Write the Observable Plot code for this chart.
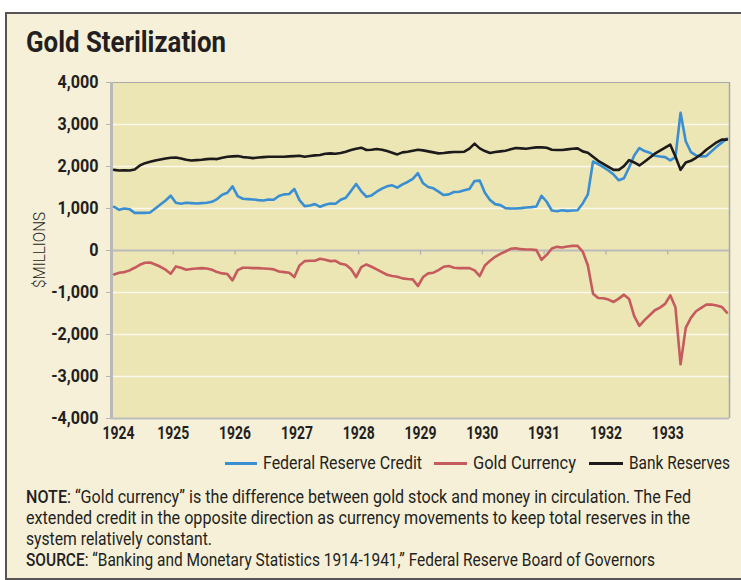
<!DOCTYPE html>
<html><head><meta charset="utf-8">
<script src="https://cdn.jsdelivr.net/npm/d3@7"></script>
<script src="https://cdn.jsdelivr.net/npm/@observablehq/plot@0.6"></script>
<style>
body{margin:0;background:#fff;}
#page{position:relative;width:741px;height:580px;overflow:hidden;font-family:Roboto,"Open Sans",sans-serif;color:#231f20;}
#frame{position:absolute;left:5px;top:12px;width:760px;height:564px;background:#f6f0d9;border-left:2px solid #555;border-top:2px solid #555;border-bottom:2px solid #555;}
.fit{position:absolute;white-space:nowrap;transform-origin:0 0;}
#title{left:26px;top:28px;font-weight:bold;font-size:29px;line-height:29px;}
#chart{position:absolute;left:0;top:62px;}
#ylab{position:absolute;white-space:nowrap;font-size:16px;line-height:16px;font-weight:300;}
.leg{font-size:18.5px;line-height:18px;}
.sw{position:absolute;height:3px;width:33px;}
.note{font-size:18.5px;line-height:18px;}
.note b{font-weight:500;}
</style>
</head><body>
<div id="page">
  <div id="frame"></div>
  <div id="title" class="fit">Gold Sterilization</div>
  <div id="chart"></div>
  <div id="ylab">$MILLIONS</div>
  <div id="legend"></div>
  <div id="notes"></div>
</div>
<script>
// ---- data (monthly, Jan 1924 – Dec 1933, $ millions) ----
const startYear = 1924;
const yearTicks = [1924, 1925, 1926, 1927, 1928, 1929, 1930, 1931, 1932, 1933];
const valueTicks = [-4000, -3000, -2000, -1000, 0, 1000, 2000, 3000, 4000];
const seriesNames = ["Federal Reserve Credit", "Gold Currency", "Bank Reserves"];
const seriesColors = ["#3a8fd3", "#c55b5d", "#1c1a1a"];

const fedCredit = [
  1040, 968, 1000, 984, 896, 896, 896, 904, 1000, 1096, 1192, 1304,
  1136, 1112, 1136, 1128, 1120, 1128, 1136, 1160, 1224, 1328, 1376, 1528,
  1296, 1232, 1224, 1216, 1200, 1192, 1216, 1208, 1296, 1336, 1344, 1464,
  1200, 1056, 1072, 1104, 1040, 1088, 1120, 1112, 1208, 1256, 1416, 1584,
  1408, 1280, 1312, 1400, 1472, 1528, 1552, 1496, 1576, 1632, 1704, 1840,
  1600, 1512, 1480, 1400, 1320, 1336, 1392, 1400, 1432, 1464, 1656, 1664,
  1376, 1200, 1104, 1080, 1008, 1000, 1000, 1008, 1024, 1032, 1048, 1304,
  1160, 952, 936, 960, 944, 952, 960, 1120, 1336, 2120, 2056, 1984,
  1904, 1808, 1672, 1720, 1976, 2264, 2440, 2368, 2328, 2256, 2240, 2224,
  2144, 2224, 3280, 2600, 2344, 2264, 2240, 2248, 2360, 2472, 2568, 2664
];
const goldCurrency = [
  -569, -529, -514, -474, -411, -340, -292, -284, -332, -387, -458, -553,
  -379, -411, -458, -442, -427, -419, -427, -458, -514, -545, -561, -711,
  -466, -411, -411, -419, -419, -427, -435, -450, -498, -514, -529, -632,
  -356, -253, -245, -245, -198, -221, -253, -245, -316, -340, -442, -632,
  -395, -332, -387, -450, -514, -577, -608, -624, -664, -679, -687, -845,
  -632, -545, -529, -466, -387, -371, -411, -419, -419, -419, -474, -608,
  -356, -245, -150, -79, -24, 40, 55, 32, 24, 24, 8, -221,
  -103, 47, 87, 71, 95, 111, 111, -24, -356, -1027, -1130, -1138,
  -1169, -1225, -1146, -1051, -1153, -1564, -1793, -1659, -1541, -1422, -1359, -1272,
  -1067, -1351, -2710, -1841, -1604, -1446, -1367, -1288, -1288, -1311, -1343, -1477
];
const bankReserves = [
  1920, 1904, 1912, 1904, 1928, 2024, 2080, 2112, 2144, 2168, 2192, 2208,
  2216, 2192, 2160, 2144, 2152, 2160, 2176, 2184, 2176, 2208, 2232, 2240,
  2248, 2224, 2216, 2200, 2216, 2224, 2232, 2232, 2232, 2232, 2240, 2248,
  2256, 2232, 2248, 2264, 2272, 2304, 2312, 2304, 2320, 2352, 2392, 2424,
  2448, 2392, 2400, 2416, 2400, 2368, 2328, 2288, 2336, 2352, 2376, 2400,
  2384, 2360, 2336, 2312, 2320, 2336, 2344, 2344, 2352, 2424, 2544, 2432,
  2368, 2320, 2344, 2360, 2376, 2408, 2440, 2432, 2424, 2440, 2456, 2456,
  2448, 2400, 2392, 2392, 2408, 2424, 2432, 2360, 2328, 2232, 2136, 2064,
  1992, 1920, 1920, 2008, 2152, 2096, 2024, 2112, 2208, 2304, 2376, 2448,
  2520, 2240, 1920, 2096, 2136, 2208, 2288, 2400, 2488, 2576, 2640, 2640
];
const noteLines = [
  ["NOTE", ": “Gold currency” is the difference between gold stock and money in circulation. The Fed"],
  ["", "extended credit in the opposite direction as currency movements to keep total reserves in the"],
  ["", "system relatively constant."],
  ["SOURCE", ": “Banking and Monetary Statistics 1914-1941,” Federal Reserve Board of Governors"]
];

// ---- build table ----
const monthTime = i => startYear + (i + 0.5) / 12;
const table = [];
[fedCredit, goldCurrency, bankReserves].forEach((arr, s) =>
  arr.forEach((v, i) => table.push({t: monthTime(i), v, s: seriesNames[s]})));

const fmt = d => (d < 0 ? "-" : "") + d3.format(",")(Math.abs(d));
const axisFont = {fill: "#231f20"};

const chart = Plot.plot({
  width: 741, height: 386,
  marginLeft: 111, marginRight: 12, marginTop: 20, marginBottom: 30,
  x: {domain: [1924, 1934]},
  y: {domain: [-4000, 4000]},
  style: {background: "transparent", fontFamily: "Roboto, sans-serif", fontSize: "18px", fontWeight: "bold", color: "#231f20", overflow: "visible"},
  marks: [
    Plot.frame({fill: "#ece5b4", stroke: null}),
    Plot.ruleY(valueTicks.filter(d => Math.abs(d) !== 4000 && d !== 0), {stroke: "#fbf8ec", strokeWidth: 1.6}),
    Plot.ruleY([4000], {stroke: "#a8a8a8", strokeWidth: 1.2}),
    Plot.ruleY([-4000], {stroke: "#bdbdbd", strokeWidth: 2}),
    Plot.ruleX([1934], {stroke: "#a8a8a8", strokeWidth: 1.5}),
    Plot.ruleY([0], {stroke: "#bcbcbc", strokeWidth: 2}),
    Plot.ruleX(yearTicks.concat([1934]), {y1: 0, y2: -110, stroke: "#b0b0b0", strokeWidth: 1.2}),
    Plot.ruleX([1924], {stroke: "#b9b9b9", strokeWidth: 3}),
    Plot.axisY({ticks: valueTicks, tickFormat: fmt, tickSize: 5, tickPadding: 8, stroke: "#b5b5b5", label: null, ...axisFont}),
    Plot.axisX({ticks: yearTicks.slice(1), tickFormat: d => String(d), tickSize: 0, tickPadding: 8, label: null, ...axisFont}),
    Plot.axisX({ticks: [yearTicks[0]], tickFormat: d => String(d), tickSize: 0, tickPadding: 8, dx: 7, label: null, ...axisFont}),
    Plot.line(table, {x: "t", y: "v", z: "s", stroke: "s", strokeWidth: 2.6, strokeLinejoin: "round"})
  ],
  color: {domain: seriesNames, range: seriesColors}
});
document.getElementById("chart").appendChild(chart);

// condense axis labels
function condense(sel, refText, target) {
  const texts = Array.from(chart.querySelectorAll(sel));
  const ref = texts.find(t => t.textContent === refText);
  if (!ref) return;
  const f = target / ref.getComputedTextLength();
  texts.forEach(t => {
    const L = t.getComputedTextLength();
    t.setAttribute("textLength", L * f);
    t.setAttribute("lengthAdjust", "spacingAndGlyphs");
  });
}
condense("g[aria-label='y-axis tick label'] text", "4,000", 41);
condense("g[aria-label='x-axis tick label'] text", "1924", 32);

function fit(el, w) {
  const nat = el.getBoundingClientRect().width;
  el.style.transform = `scaleX(${w / nat})`;
}
fit(document.getElementById("title"), 200);

// y label
const yl = document.getElementById("ylab");
const yw = yl.getBoundingClientRect().width;
const yf = 76 / yw;
yl.style.left = (40 - yw / 2) + "px";
yl.style.top = (250 - 8) + "px";
yl.style.transform = `rotate(-90deg) scaleX(${yf})`;
yl.style.transformOrigin = "50% 50%";

// legend
const legend = document.getElementById("legend");
const legPos = [[225, 263, 159], [434, 473, 103], [589, 629, 101]];
seriesNames.forEach((name, i) => {
  const sw = document.createElement("div");
  sw.className = "sw";
  sw.style.left = legPos[i][0] + "px";
  sw.style.top = "462px";
  sw.style.width = (legPos[i][1] - legPos[i][0] - 6) + "px";
  sw.style.background = seriesColors[i];
  legend.appendChild(sw);
  const tx = document.createElement("div");
  tx.className = "fit leg";
  tx.textContent = name;
  tx.style.left = legPos[i][1] + "px";
  tx.style.top = "454px";
  legend.appendChild(tx);
  fit(tx, legPos[i][2]);
});

// notes
const notes = document.getElementById("notes");
const noteW = [665, 664, 186, 629];
const noteTop = [488, 509, 530, 551];
noteLines.forEach((ln, i) => {
  const d = document.createElement("div");
  d.className = "fit note";
  d.innerHTML = (ln[0] ? `<b>${ln[0]}</b>` : "") + ln[1];
  d.style.left = "26px";
  d.style.top = noteTop[i] + "px";
  notes.appendChild(d);
  fit(d, noteW[i]);
});
</script>
</body></html>
